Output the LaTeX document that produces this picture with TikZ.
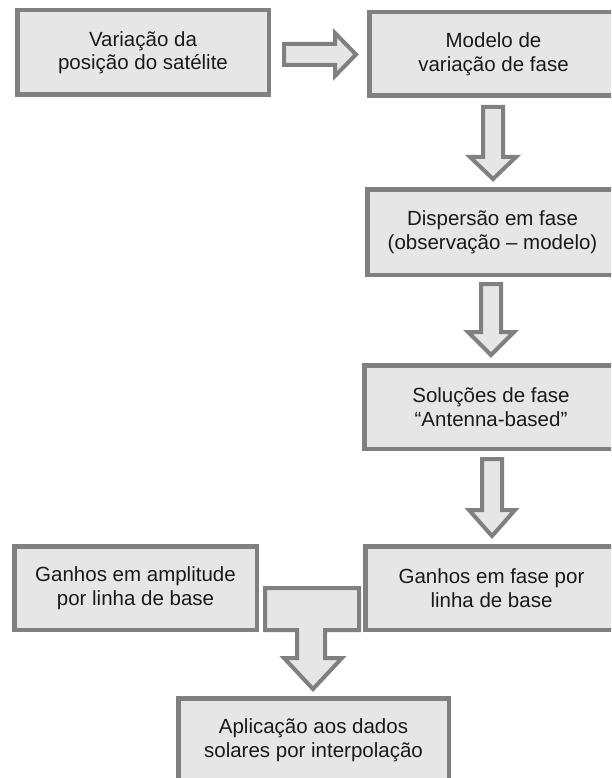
\documentclass[tikz,border=0pt]{standalone}
\usepackage{fontspec}
\setmainfont{Liberation Sans}
\definecolor{bordergray}{HTML}{808080}
\definecolor{boxfill}{HTML}{E6E6E6}
\definecolor{textcol}{HTML}{1A1A1A}
\tikzset{
  box/.style={draw=bordergray, fill=boxfill, line width=4.5pt, inner sep=0pt,
    align=center, font=\fontsize{20.5}{23.5}\selectfont, text=textcol},
  blockarrow/.style={draw=bordergray, fill=boxfill, line width=4pt, line join=miter}
}
\begin{document}
\begin{tikzpicture}[x=1pt,y=-1pt]
\useasboundingbox (0,0) rectangle (611,778);
\clip (0,0) rectangle (611,778);
\fill[white] (0,0) rectangle (611,778);
% boxes
\node[box, minimum width=251.5pt, minimum height=84.5pt] (b1) at (143,52.5) {Variação da\\posição do satélite};
\node[box, minimum width=248.5pt, minimum height=83.5pt] (b2) at (493.5,54) {Modelo de\\variação de fase};
\node[box, minimum width=250.5pt, minimum height=85.5pt] (b3) at (492.5,232) {Dispersão em fase\\(observação – modelo)};
\node[box, minimum width=253.5pt, minimum height=83.5pt] (b4) at (491,407) {Soluções de fase\\“Antenna-based”};
\node[box, minimum width=242.5pt, minimum height=83.5pt] (b5) at (135.5,588) {Ganhos em amplitude\\por linha de base};
\node[box, minimum width=252.5pt, minimum height=83.5pt] (b6) at (491.5,588) {Ganhos em fase por\\linha de base};
\node[box, minimum width=270.5pt, minimum height=83.5pt] (b7) at (313.5,740) {Aplicação aos dados\\solares por interpolação};
% block arrows
% b1 -> b2
\draw[blockarrow] (284,44) -- (335,44) -- (335,33) -- (356,54.5) -- (335,76) -- (335,65) -- (284,65) -- cycle;
% b2 -> b3
\draw[blockarrow] (483,107) -- (503,107) -- (503,157) -- (516,157) -- (493,179) -- (470,157) -- (483,157) -- cycle;
% b3 -> b4
\draw[blockarrow] (481,284) -- (501,284) -- (501,332) -- (514,332) -- (491,355) -- (468,332) -- (481,332) -- cycle;
% b4 -> b6
\draw[blockarrow] (482,459) -- (502,459) -- (502,510) -- (515,510) -- (492,536) -- (469,510) -- (482,510) -- cycle;
% b5 + b6 -> b7
\draw[blockarrow] (265,588) -- (359,588) -- (359,630) -- (325,630) -- (325,658) -- (342,658) -- (313,689) -- (284,658) -- (297,658) -- (297,630) -- (265,630) -- cycle;
\end{tikzpicture}
\end{document}
